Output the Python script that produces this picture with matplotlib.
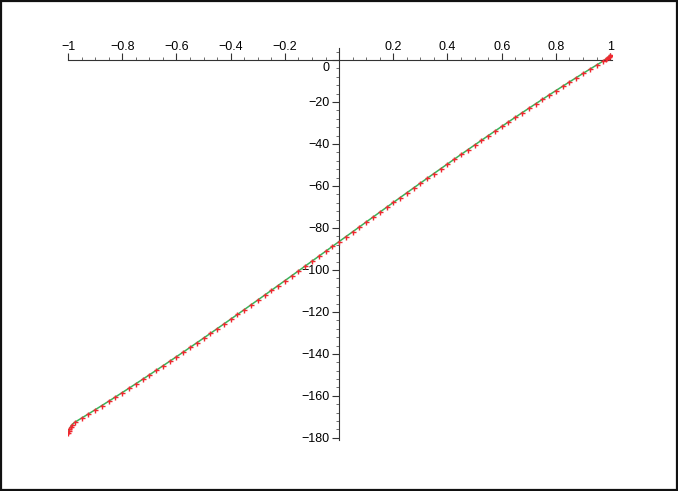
import matplotlib
matplotlib.use("Agg")
import matplotlib.pyplot as plt
from matplotlib.patches import Rectangle
from matplotlib.ticker import MultipleLocator
import matplotlib.transforms as mtransforms

plt.rcParams['font.family'] = ['Liberation Sans', 'DejaVu Sans']

# sample points of the curve (x, y), denser near both ends
x_left = [-1.0, -0.998, -0.995, -0.99, -0.985]
y_left = [-177.5, -176.8, -175.8, -174.6, -173.7]

x_mid = [-0.975, -0.95, -0.925, -0.9, -0.875, -0.85, -0.825, -0.8, -0.775, -0.75,
         -0.725, -0.7, -0.675, -0.65, -0.625, -0.6, -0.575, -0.55, -0.525, -0.5,
         -0.475, -0.45, -0.425, -0.4, -0.375, -0.35, -0.325, -0.3, -0.275, -0.25,
         -0.225, -0.2, -0.175, -0.15, -0.125, -0.1, -0.075, -0.05, -0.025, 0.0,
         0.025, 0.05, 0.075, 0.1, 0.125, 0.15, 0.175, 0.2, 0.225, 0.25,
         0.275, 0.3, 0.325, 0.35, 0.375, 0.4, 0.425, 0.45, 0.475, 0.5,
         0.525, 0.55, 0.575, 0.6, 0.625, 0.65, 0.675, 0.7, 0.725, 0.75,
         0.775, 0.8, 0.825, 0.85, 0.875, 0.9, 0.925, 0.95, 0.975]
y_mid = [-172.56, -170.59, -168.61, -166.61, -164.59, -162.55, -160.50, -158.43, -156.34, -154.24,
         -152.12, -149.99, -147.85, -145.69, -143.52, -141.34, -139.14, -136.93, -134.72, -132.49,
         -130.25, -128.00, -125.75, -123.48, -121.21, -118.93, -116.64, -114.35, -112.05, -109.74,
         -107.43, -105.12, -102.80, -100.48, -98.15, -95.83, -93.50, -91.16, -88.83, -86.50,
         -84.17, -81.84, -79.51, -77.18, -74.85, -72.52, -70.20, -67.88, -65.57, -63.26,
         -60.95, -58.65, -56.36, -54.07, -51.79, -49.52, -47.25, -45.00, -42.75, -40.51,
         -38.28, -36.07, -33.86, -31.67, -29.48, -27.31, -25.15, -23.01, -20.88, -18.76,
         -16.66, -14.57, -12.50, -10.45, -8.41, -6.39, -4.39, -2.41, -0.45]

x_right = [0.985, 0.99, 0.995, 0.998, 1.0]
y_right = [0.5, 1.0, 1.6, 2.0, 2.2]

xs = x_left + x_mid + x_right
ys = y_left + y_mid + y_right

x_ticks = [-1, -0.8, -0.6, -0.4, -0.2, 0.2, 0.4, 0.6, 0.8, 1]
x_labels = ['\u22121', '\u22120.8', '\u22120.6', '\u22120.4', '\u22120.2', '0.2', '0.4', '0.6', '0.8', '1']
y_ticks = [0, -20, -40, -60, -80, -100, -120, -140, -160, -180]

fig = plt.figure(figsize=(6.78, 4.91), dpi=100)
ax = fig.add_axes([0.1003, 0.1039, 0.8024, 0.7983])

ax.plot(xs, ys, color='#3cb35a', lw=1.1, zorder=2)
ax.plot(xs, ys, ls='none', marker='+', ms=3.6, mew=1.0, color='#f02830', zorder=3)

ax.set_xlim(-1, 1.007)
ax.set_ylim(-181, 5.7)

# Maple style axes crossing at the origin
ax.spines['left'].set_position(('data', 0))
ax.spines['top'].set_position(('data', 0))
ax.spines['bottom'].set_visible(False)
ax.spines['right'].set_visible(False)
for s in ('left', 'top'):
    ax.spines[s].set_linewidth(0.8)
    ax.spines[s].set_color('#333333')

ax.xaxis.set_ticks_position('top')
ax.yaxis.set_ticks_position('left')
ax.set_xticks(x_ticks)
ax.set_xticklabels(x_labels)
ax.xaxis.set_minor_locator(MultipleLocator(0.05))
ax.set_yticks(y_ticks)
ax.set_yticklabels([str(v).replace('-', '\u2212') for v in y_ticks])
ax.yaxis.set_minor_locator(MultipleLocator(4))

ax.tick_params(which='major', length=5, width=0.8, color='#333333', labelsize=9)
ax.tick_params(axis='x', which='major', pad=0)
ax.tick_params(axis='y', which='major', pad=2)
ax.tick_params(which='minor', length=2.5, width=0.6, color='#555555')
ax.patch.set_visible(False)

# the "0" label of the y axis sits just below the x axis
zero_lab = ax.get_yticklabels()[0]
zero_lab.set_transform(zero_lab.get_transform() +
                       mtransforms.ScaledTranslation(0, -5 / 72, fig.dpi_scale_trans))

# frame around the whole picture
fig.patches.append(Rectangle((1.2 / 678, 1 - 489.5 / 491), (677 - 1.2) / 678, (489.5 - 1) / 491,
                             transform=fig.transFigure, fill=False, lw=1.6, edgecolor='#111111'))

fig.savefig('out.png', dpi=100)
